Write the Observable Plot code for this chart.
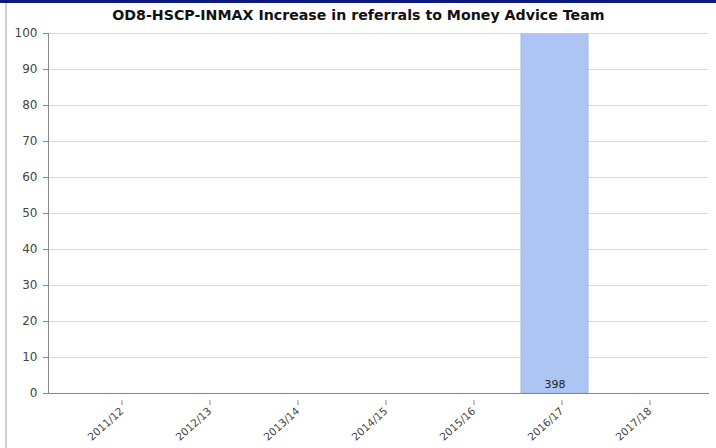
<!DOCTYPE html>
<html>
<head>
<meta charset="utf-8">
<script src="https://cdn.jsdelivr.net/npm/d3@7"></script>
<script src="https://cdn.jsdelivr.net/npm/@observablehq/plot@0.6"></script>
<style>
  html, body { margin: 0; padding: 0; background: #fff; }
  body { width: 716px; height: 448px; position: relative; overflow: hidden; }
  #topbar { position: absolute; left: 0; top: 0; width: 716px; height: 3px; background: #0c1a80; }
  #leftbar { position: absolute; left: 5px; top: 3px; width: 2px; height: 445px; background: #cfcfcf; }
  #title { position: absolute; left: 0; top: 3px; width: 716px; height: 25px; line-height: 25px; text-align: center;
           font-family: "DejaVu Sans", sans-serif; font-weight: bold; font-size: 13.5px; color: #111; }
  #title span { display: inline-block; transform: scaleX(1.05); transform-origin: center; white-space: nowrap; }
  #chart { position: absolute; left: 0; top: 26px; }
</style>
</head>
<body>
<div id="topbar"></div>
<div id="leftbar"></div>
<div id="title"><span>OD8-HSCP-INMAX Increase in referrals to Money Advice Team</span></div>
<div id="chart"></div>
<script>
const categories = ["2011/12", "2012/13", "2013/14", "2014/15", "2015/16", "2016/17", "2017/18"];
const values = [null, null, null, null, null, 398, null];
const yTicks = [0, 10, 20, 30, 40, 50, 60, 70, 80, 90, 100];

const data = categories.map((c, i) => ({category: c, value: values[i]}));
const present = data.filter(d => d.value != null);

const chart = Plot.plot({
  width: 716,
  height: 422,
  marginTop: 7,
  marginBottom: 55,
  marginLeft: 48,
  marginRight: 8,
  style: {fontFamily: "DejaVu Sans, sans-serif", background: "transparent"},
  x: {type: "band", domain: categories, paddingInner: 0.24, paddingOuter: 0.37, label: null},
  y: {domain: [0, 100], label: null},
  marks: [
    Plot.gridY(yTicks, {stroke: "#d9d9d9", strokeOpacity: 1}),
    Plot.barY(present, {x: "category", y: "value", fill: "#adc5f3", stroke: "#9db8ec", strokeWidth: 1, clip: true}),
    Plot.text(present, {x: "category", y: () => 0, text: d => String(d.value), dy: -9, fontSize: 11, fill: "#222"}),
    Plot.axisY(yTicks, {tickSize: 5, tickPadding: 6, fontSize: 12, fill: "#444", stroke: "#888", label: null}),
    Plot.axisX({tickSize: 5, tickRotate: -42, fontSize: 10.5, fill: "#444", stroke: "#888", tickPadding: 4, dx: 7, dy: 7, label: null}),
    Plot.frame({anchor: "left", stroke: "#888"}),
    Plot.frame({anchor: "bottom", stroke: "#888"})
  ]
});
document.getElementById("chart").appendChild(chart);
</script>
</body>
</html>
